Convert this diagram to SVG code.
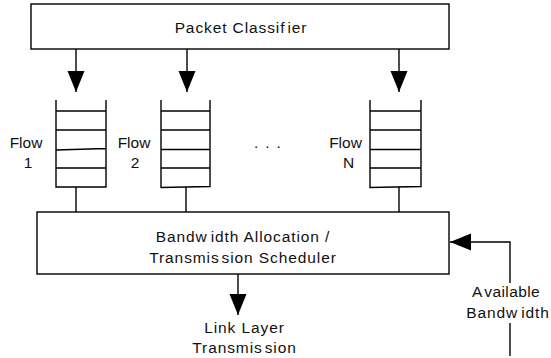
<svg xmlns="http://www.w3.org/2000/svg" width="551" height="358" viewBox="0 0 551 358">
  <style>
    .box { fill: #fff; stroke: #000; stroke-width: 1.4; }
    .ln { fill: none; stroke: #000; stroke-width: 1.4; }
    .q { fill: none; stroke: #000; stroke-width: 1.4; }
    text { font-family: "Liberation Sans", Arial, sans-serif; font-size: 15.5px; fill: #111; text-anchor: middle; }
    .sp { letter-spacing: 0.9px; }
  </style>
  <defs>
    <marker id="head" markerUnits="userSpaceOnUse" markerWidth="22" markerHeight="18" refX="21" refY="8.5" orient="auto">
      <path d="M0,0 L21,8.5 L0,17 Z" fill="#000"/>
    </marker>
  </defs>

  <rect width="551" height="358" fill="#fff"/>

  <!-- classifier at the top -->
  <g id="classifier">
    <rect class="box" x="31" y="4" width="418" height="45"/>
    <text class="sp" x="241" y="32.5">Packet Classif<tspan dx="2">ier</tspan></text>
  </g>

  <!-- per-flow queues -->
  <g id="queue1">
    <path class="q" d="M56,100 V187 H106 V100 M56,111 H106 M56,130 H106 M56,150 L106,148.5 M56,168 H106"/>
    <text x="26" y="148">Flow</text>
    <text x="28" y="167.5">1</text>
  </g>
  <g id="queue2">
    <path class="q" d="M161,100 V187.5 L210,186.5 V100 M161,111 H210 M161,130 H210 M161,149.5 H210 M161,168 H210"/>
    <text x="134" y="148">Flow</text>
    <text x="135" y="167.5">2</text>
  </g>
  <g id="queueN">
    <path class="q" d="M370,100 V187.5 L421,186.5 V100 M370,111 H421 M370,130 H421 M370,149.5 H421 M370,168 H421"/>
    <text x="345.5" y="148">Flow</text>
    <text x="348.5" y="167.5">N</text>
  </g>
  <g id="ellipsis">
    <text x="268" y="148" style="letter-spacing:1.3px">. . .</text>
  </g>

  <!-- scheduler -->
  <g id="scheduler">
    <rect class="box" x="37" y="212" width="412" height="62"/>
    <text class="sp" x="243" y="241.5">Bandw<tspan dx="3">idth Allocation /</tspan></text>
    <text class="sp" x="243" y="262.5">Transmis<tspan dx="2">sion Scheduler</tspan></text>
  </g>

  <!-- output label -->
  <g id="link-layer">
    <text class="sp" x="244.5" y="332.5">Link Layer</text>
    <text class="sp" x="244.5" y="353">Transmis<tspan dx="2">sion</tspan></text>
  </g>

  <!-- bandwidth feedback label -->
  <g id="available-bandwidth">
    <text x="506" y="296.5" style="letter-spacing:0.4px">A<tspan dx="2">vailable</tspan></text>
    <text class="sp" x="508" y="318">Bandw<tspan dx="3">idth</tspan></text>
  </g>

  <!-- connectors -->
  <g id="connectors">
    <path class="ln" d="M76,49 V92" marker-end="url(#head)"/>
    <path class="ln" d="M187,49 V92" marker-end="url(#head)"/>
    <path class="ln" d="M399,49 V92" marker-end="url(#head)"/>
    <path class="ln" d="M76,187 V212"/>
    <path class="ln" d="M186,187 V212"/>
    <path class="ln" d="M399,187 V212"/>
    <path class="ln" d="M238,274 V315" marker-end="url(#head)"/>
    <path class="ln" d="M510,356 V323"/>
    <path class="ln" d="M510,283 V242 H450" marker-end="url(#head)"/>
  </g>
</svg>
